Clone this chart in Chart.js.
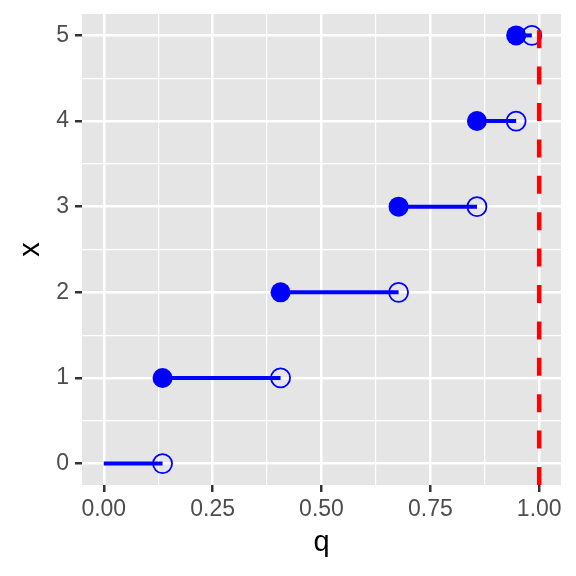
<!DOCTYPE html>
<html>
<head>
<meta charset="utf-8">
<script src="https://cdn.jsdelivr.net/npm/chart.js@4"></script>
<style>
  body { margin: 0; background: #fff; }
  #wrap { width: 576px; height: 576px; }
</style>
</head>
<body>
<div id="wrap"><canvas id="grafico" width="576" height="576"></canvas></div>
<script>
// valores x y cuantiles (cdf Poisson)
const xs = [0, 1, 2, 3, 4, 5];
const qIzq = [0, 0.135, 0.406, 0.677, 0.857, 0.947];
const qDer = [0.135, 0.406, 0.677, 0.857, 0.947, 0.983];
const lineaRoja = [{ x: 1, y: -0.25 }, { x: 1, y: 5.06 }];

const xMayores = [0, 0.25, 0.5, 0.75, 1];
const xMenores = [0.125, 0.375, 0.625, 0.875];
const yMayores = [0, 1, 2, 3, 4, 5];
const yMenores = [0.5, 1.5, 2.5, 3.5, 4.5];

const azul = '#0000FF';
const fuente = 'Liberation Sans, Arial, Helvetica, sans-serif';

const datasets = [];

// segmentos horizontales
xs.forEach((x, i) => {
  datasets.push({
    data: [{ x: qIzq[i], y: x }, { x: qDer[i], y: x }],
    showLine: true,
    borderColor: azul,
    borderWidth: 4,
    pointRadius: 0,
    order: 3
  });
});

// puntos rellenos (x >= 1)
datasets.push({
  data: xs.slice(1).map((x, i) => ({ x: qIzq[i + 1], y: x })),
  pointRadius: 10,
  backgroundColor: azul,
  borderWidth: 0,
  order: 2
});

// puntos abiertos
datasets.push({
  data: xs.map((x, i) => ({ x: qDer[i], y: x })),
  pointRadius: 9.5,
  backgroundColor: 'rgba(0,0,0,0)',
  borderColor: azul,
  borderWidth: 1.8,
  order: 1
});

// linea roja discontinua en q = 1
datasets.push({
  data: lineaRoja,
  showLine: true,
  borderColor: '#FF0000',
  borderWidth: 4.5,
  borderDash: [18, 18.4],
  pointRadius: 0,
  order: 0
});

const fondoPanel = {
  id: 'fondoPanel',
  beforeDraw(chart) {
    const { ctx, chartArea: a } = chart;
    ctx.save();
    ctx.fillStyle = '#E5E5E5';
    ctx.fillRect(a.left, a.top, a.right - a.left, a.bottom - a.top);
    ctx.restore();
  }
};

const esMayor = (lista, v) => lista.some(m => Math.abs(m - v) < 1e-9);

function ejeConfig(min, max, mayores, menores, fmt, titulo, tituloPad, pad) {
  return {
    type: 'linear',
    min: min,
    max: max,
    afterBuildTicks: s => {
      s.ticks = mayores.concat(menores).sort((a, b) => a - b).map(v => ({ value: v }));
    },
    border: { display: false },
    grid: {
      color: '#FFFFFF',
      lineWidth: c => esMayor(mayores, c.tick.value) ? 2.5 : 1.2,
      drawTicks: true,
      tickLength: 7,
      tickWidth: 2.5,
      tickColor: c => esMayor(mayores, c.tick.value) ? '#333333' : 'rgba(0,0,0,0)'
    },
    ticks: {
      autoSkip: false,
      maxRotation: 0,
      padding: pad,
      color: '#4D4D4D',
      font: { family: fuente, size: 23 },
      callback: v => esMayor(mayores, v) ? fmt(v) : ''
    },
    title: {
      display: true,
      text: titulo,
      color: '#000000',
      font: { family: fuente, size: 29 },
      padding: tituloPad
    }
  };
}

const escalaX = ejeConfig(-0.05, 1.05, xMayores, xMenores, v => v.toFixed(2), 'q', { top: 0, bottom: 16 }, 4);
escalaX.afterFit = s => { s.height = 91; s.paddingLeft = 0; s.paddingRight = 0; };
const escalaY = ejeConfig(-0.25, 5.25, yMayores, yMenores, v => String(v), 'x', { top: 14, bottom: 0 }, 6);
escalaY.afterFit = s => { s.width = 82; s.paddingTop = 0; s.paddingBottom = 0; };

new Chart(document.getElementById('grafico'), {
  type: 'scatter',
  data: { datasets: datasets },
  options: {
    responsive: false,
    animation: false,
    layout: { padding: { top: 14, right: 15, left: 0, bottom: 0 } },
    plugins: { legend: { display: false }, tooltip: { enabled: false } },
    scales: { x: escalaX, y: escalaY }
  },
  plugins: [fondoPanel]
});
</script>
</body>
</html>
